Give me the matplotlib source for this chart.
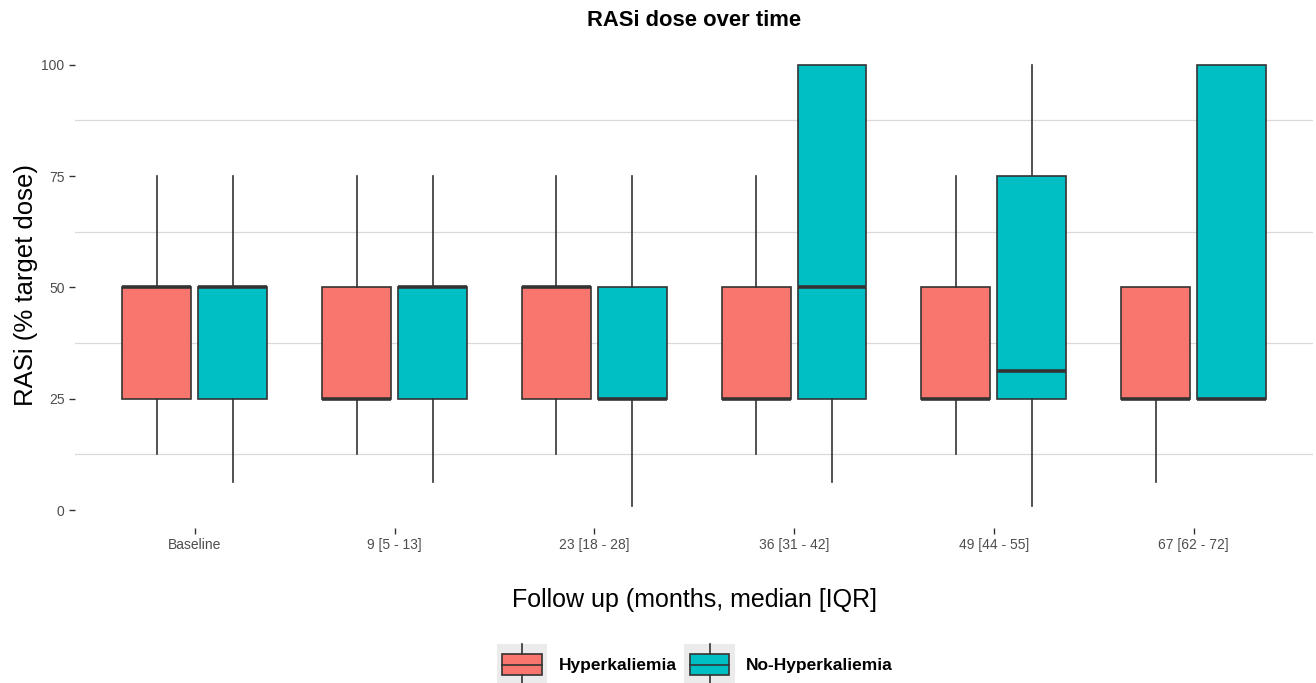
import matplotlib
matplotlib.use("Agg")
import matplotlib.pyplot as plt
from matplotlib.patches import Rectangle
from matplotlib.lines import Line2D
from matplotlib.legend_handler import HandlerBase

plt.rcParams['font.family'] = ['Liberation Sans', 'DejaVu Sans']

# ===== Data =====
visits = ["Baseline", "9 [5 - 13]", "23 [18 - 28]", "36 [31 - 42]", "49 [44 - 55]", "67 [62 - 72]"]
groups = ["Hyperkaliemia", "No-Hyperkaliemia"]

hyper_q1 = [25, 25, 25, 25, 25, 25]
hyper_med = [50, 25, 50, 25, 25, 25]
hyper_q3 = [50, 50, 50, 50, 50, 50]
hyper_lo = [12.5, 12.5, 12.5, 12.5, 12.5, 6.25]
hyper_hi = [75, 75, 75, 75, 75, 50]

nohyper_q1 = [25, 25, 25, 25, 25, 25]
nohyper_med = [50, 50, 25, 50, 31.25, 25]
nohyper_q3 = [50, 50, 50, 100, 75, 100]
nohyper_lo = [6.25, 6.25, 1, 6.25, 1, 25]
nohyper_hi = [75, 75, 75, 100, 100, 100]

colors = ["#F8766D", "#00BFC4"]
EDGE = "#333333"


def make_stats(q1, med, q3, lo, hi):
    return [dict(q1=a, med=b, q3=c, whislo=d, whishi=e, fliers=[])
            for a, b, c, d, e in zip(q1, med, q3, lo, hi)]


class BoxKeyHandler(HandlerBase):
    def create_artists(self, legend, orig_handle, xdescent, ydescent,
                       width, height, fontsize, trans):
        fc = orig_handle.get_facecolor()
        bg = Rectangle((-xdescent - 2, -ydescent - 7), width + 4, height + 14,
                       facecolor="#ebebeb", edgecolor="none", transform=trans)
        box = Rectangle((-xdescent + 2, -ydescent + 0.5), width - 4, height - 1,
                        facecolor=fc, edgecolor=EDGE, lw=1.2, transform=trans)
        cx = -xdescent + width / 2
        med = Line2D([-xdescent + 2, -xdescent + width - 2],
                     [-ydescent + height / 2] * 2, color=EDGE, lw=1.2, transform=trans)
        w1 = Line2D([cx, cx], [-ydescent + height - 0.5, -ydescent + height + 7],
                    color=EDGE, lw=1.2, transform=trans)
        w2 = Line2D([cx, cx], [-ydescent + 0.5, -ydescent - 7],
                    color=EDGE, lw=1.2, transform=trans)
        return [bg, box, med, w1, w2]


fig = plt.figure(figsize=(13.16, 6.83), dpi=100)
ax = fig.add_axes([0.057, 0.227, 0.941, 0.711])

pos = list(range(1, len(visits) + 1))
offset = 0.19
bw = 0.345
series = [
    make_stats(hyper_q1, hyper_med, hyper_q3, hyper_lo, hyper_hi),
    make_stats(nohyper_q1, nohyper_med, nohyper_q3, nohyper_lo, nohyper_hi),
]
for i, stats in enumerate(series):
    p = [x + (i - 0.5) * 2 * offset for x in pos]
    ax.bxp(stats, positions=p, widths=bw, patch_artist=True, showcaps=False,
           showfliers=False,
           boxprops=dict(facecolor=colors[i], edgecolor=EDGE, lw=1.2),
           medianprops=dict(color=EDGE, lw=2.6, solid_capstyle="butt"),
           whiskerprops=dict(color=EDGE, lw=1.2))

ax.set_xlim(0.4, 6.6)
ax.set_ylim(-4, 105)
ax.set_yticks([0, 25, 50, 75, 100])
ax.set_yticks([12.5, 37.5, 62.5, 87.5], minor=True)
ax.set_xticks(pos)
ax.set_xticklabels(visits)
ax.grid(False)
ax.yaxis.grid(True, which="minor", color="#d9d9d9", lw=0.9)
ax.set_axisbelow(True)
for s in ax.spines.values():
    s.set_visible(False)
ax.tick_params(axis="both", which="major", colors="#333333", labelcolor="#4d4d4d",
               labelsize=10, length=4, width=1)
ax.tick_params(axis="y", which="minor", length=0)

ax.set_title("RASi dose over time", fontsize=15.8, fontweight="bold", pad=12)
ax.set_ylabel("RASi (% target dose)", fontsize=18.5)
ax.yaxis.set_label_coords(-0.03, 0.5)
ax.set_xlabel("Follow up (months, median [IQR]", fontsize=18, labelpad=26)

handles = [Rectangle((0, 0), 1, 1, facecolor=c) for c in colors]
fig.legend(handles, groups, handler_map={Rectangle: BoxKeyHandler()},
           loc="center", bbox_to_anchor=(0.529, 0.027), ncol=2, frameon=False,
           prop=dict(weight="bold", size=12.5), handlelength=2.6, handleheight=1.6,
           columnspacing=0.6, handletextpad=0.8)

fig.savefig("out.png", dpi=100)
